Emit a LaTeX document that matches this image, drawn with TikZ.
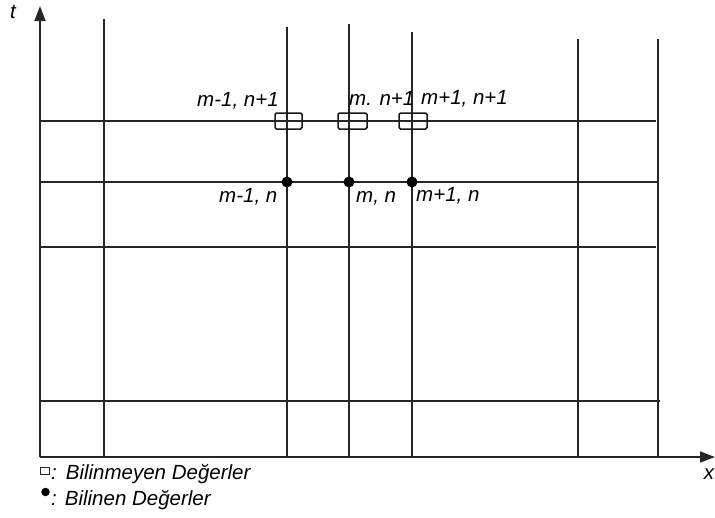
\documentclass[tikz,border=0pt]{standalone}
\usepackage{fontspec}
\setmainfont{Liberation Sans}
\usetikzlibrary{arrows.meta}
\begin{document}
\begin{tikzpicture}[x=1pt,y=-1pt,
  grid/.style={draw=black!85,line width=1.7pt},
  axis/.style={draw=black!85,line width=1.7pt,-{Triangle[length=15pt,width=11pt]}},
  unk/.style={draw=black!90,line width=1.5pt,rounded corners=1.5pt,minimum width=27pt,minimum height=16pt,inner sep=0pt},
  kn/.style={circle,fill=black,minimum size=11pt,inner sep=0pt},
  lbl/.style={font=\fontsize{20.5}{24}\selectfont\itshape,inner sep=0pt,anchor=base west},
  leg/.style={font=\fontsize{20.5}{24}\selectfont\itshape,inner sep=0pt,anchor=base west}]
\useasboundingbox (0,0) rectangle (715,517);
% coordinates
\coordinate (o) at (40,457);
\coordinate (ttop) at (40,6);
\coordinate (xend) at (715,457);
% vertical grid lines
\foreach \name/\x/\top in {v1/104/19, v2/287/27, v3/349/24, v4/412/32, v5/578/39, v6/658/39}{
  \coordinate (\name t) at (\x,\top);
  \coordinate (\name b) at (\x,457);
  \draw[grid] (\name t) -- (\name b);
}
% horizontal grid lines
\foreach \name/\y/\r in {h1/121/656, h2/182/658, h3/247/656, h4/401/660}{
  \coordinate (\name l) at (40,\y);
  \coordinate (\name r) at (\r,\y);
  \draw[grid] (\name l) -- (\name r);
}
% axes
\draw[axis] (o) -- (ttop);
\draw[axis] (o) -- (xend);
\node[font=\fontsize{20.5}{24}\selectfont\itshape,inner sep=0pt] (tl) at (13,12) {t};
\node[font=\fontsize{20.5}{24}\selectfont\itshape,inner sep=0pt] (xl) at (709,474) {x};
% unknown values
\node[unk] (u1) at (288.5,121) {};
\node[unk,minimum width=29pt] (u2) at (352.5,121) {};
\node[unk,minimum width=28pt] (u3) at (413,121) {};
% known values
\node[kn] (k1) at (287,182) {};
\node[kn] (k2) at (349,182) {};
\node[kn] (k3) at (412,182) {};
% labels
\node[lbl] (l1) at (197,106) {m-1, n+1};
\node[lbl] (l2) at (349,105) {m. n+1};
\node[lbl] (l3) at (421,104) {m+1, n+1};
\node[lbl] (l4) at (219,202) {m-1, n};
\node[lbl] (l5) at (356,202) {m, n};
\node[lbl] (l6) at (416,201) {m+1, n};
% legend
\node[draw=black!85,line width=1.2pt,minimum width=9pt,minimum height=6.5pt,inner sep=0pt] (lb) at (45,471) {};
\node[leg] (lt1) at (51,479) {:\hspace{9pt}Bilinmeyen Değerler};
\node[circle,fill=black,minimum size=8.5pt,inner sep=0pt] (ld) at (45.5,492) {};
\node[leg] (lt2) at (51,505) {:\hspace{8pt}Bilinen Değerler};
\end{tikzpicture}
\end{document}
